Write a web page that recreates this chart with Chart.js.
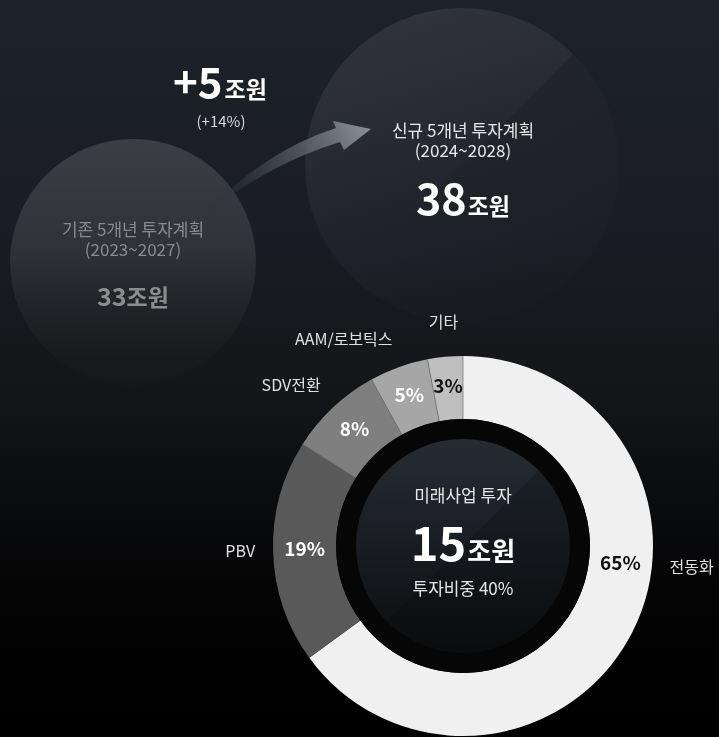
<!DOCTYPE html>
<html>
<head>
<meta charset="utf-8">
<script src="https://cdn.jsdelivr.net/npm/chart.js@4.4.1/dist/chart.umd.min.js"></script>
<style>
  html, body { margin: 0; padding: 0; background: #000; }
  #wrap { width: 719px; height: 737px; position: relative; }
  canvas { display: block; }
</style>
</head>
<body>
<div id="wrap"><canvas id="c" width="719" height="737"></canvas></div>
<script>
// ---- data ----
const categories = ['전동화', 'PBV', 'SDV전환', 'AAM/로보틱스', '기타'];
const shares = [65, 19, 8, 5, 3];
const planNames = ['기존 5개년 투자계획', '신규 5개년 투자계획'];
const planPeriods = ['(2023~2027)', '(2024~2028)'];
const planTotals = [33, 38];
const increaseAmount = 5;
const increasePct = 14;
const futureTitle = '미래사업 투자';
const futureTotal = 15;
const futureShareLabel = '투자비중';
const futureShare = 40;
const unit = '조원';

const FONT = '"Noto Sans CJK KR", "Noto Sans", sans-serif';
const segColors = ['#f0f0f0', '#595959', '#7f7f7f', '#a6a6a6', '#bfbfbf'];
const pctColors = ['#111111', '#ffffff', '#ffffff', '#ffffff', '#111111'];

function mixed(ctx, cx, baseY, parts) {
  let total = 0;
  const widths = parts.map(p => {
    ctx.font = `${p.weight} ${p.size}px ${FONT}`;
    const w = ctx.measureText(p.text).width + (p.gap || 0);
    total += w;
    return w;
  });
  let x = cx - total / 2;
  ctx.textAlign = 'left';
  ctx.textBaseline = 'alphabetic';
  parts.forEach((p, i) => {
    ctx.font = `${p.weight} ${p.size}px ${FONT}`;
    ctx.fillStyle = p.color;
    ctx.fillText(p.text, x, baseY);
    x += widths[i];
  });
}

function text(ctx, s, x, y, size, weight, color, align, baseline) {
  ctx.font = `${weight} ${size}px ${FONT}`;
  ctx.fillStyle = color;
  ctx.textAlign = align || 'center';
  ctx.textBaseline = baseline || 'middle';
  ctx.fillText(s, x, y);
}

const backdrop = {
  id: 'backdrop',
  beforeDraw(chart) {
    const ctx = chart.ctx;
    const W = chart.width, H = chart.height;
    ctx.save();
    const bg = ctx.createLinearGradient(0, 0, 0, H);
    bg.addColorStop(0, '#1d2129');
    bg.addColorStop(0.3, '#1a1d23');
    bg.addColorStop(0.52, '#141619');
    bg.addColorStop(0.8, '#040405');
    bg.addColorStop(1, '#000000');
    ctx.fillStyle = bg;
    ctx.fillRect(0, 0, W, H);

    // left bubble (existing plan)
    const L = { x: 133, y: 262, r: 123 };
    let g = ctx.createLinearGradient(0, L.y - L.r, 0, L.y + L.r);
    g.addColorStop(0, '#3b3e43');
    g.addColorStop(0.45, '#2f3236');
    g.addColorStop(1, 'rgba(24,26,29,0.3)');
    ctx.beginPath(); ctx.arc(L.x, L.y, L.r, 0, Math.PI * 2); ctx.fillStyle = g; ctx.fill();

    // right bubble (new plan)
    const R = { x: 462, y: 165, r: 157 };
    g = ctx.createLinearGradient(R.x - R.r * 0.4, R.y - R.r, R.x + R.r * 0.2, R.y + R.r);
    g.addColorStop(0, '#31353b');
    g.addColorStop(0.45, '#25292f');
    g.addColorStop(1, 'rgba(28,31,36,0.2)');
    ctx.beginPath(); ctx.arc(R.x, R.y, R.r, 0, Math.PI * 2); ctx.fillStyle = g; ctx.fill();
    ctx.save();
    ctx.beginPath(); ctx.arc(R.x, R.y, R.r, 0, Math.PI * 2); ctx.clip();
    ctx.beginPath();
    ctx.moveTo(R.x + R.r * 1.2, R.y - R.r * 1.2);
    ctx.lineTo(R.x - R.r * 1.2, R.y + R.r * 1.2);
    ctx.lineTo(R.x + R.r * 1.5, R.y + R.r * 1.5);
    ctx.closePath();
    const dg = ctx.createLinearGradient(R.x, R.y - R.r, R.x, R.y + R.r * 0.5);
    dg.addColorStop(0, 'rgba(14,16,20,0.35)');
    dg.addColorStop(1, 'rgba(14,16,20,0)');
    ctx.fillStyle = dg; ctx.fill();
    ctx.restore();

    // arrow
    const S = { x: 203, y: 216 };
    ctx.beginPath();
    ctx.moveTo(S.x, S.y);
    ctx.quadraticCurveTo(262, 152, 336, 128);
    ctx.lineTo(333, 121);
    ctx.lineTo(371, 129);
    ctx.lineTo(344, 150);
    ctx.lineTo(340, 142);
    ctx.quadraticCurveTo(268, 164, S.x, S.y);
    ctx.closePath();
    const ag = ctx.createLinearGradient(S.x, S.y, 371, 129);
    ag.addColorStop(0, 'rgba(40,46,56,0)');
    ag.addColorStop(0.4, 'rgba(64,70,80,0.7)');
    ag.addColorStop(1, 'rgba(140,144,150,1)');
    ctx.fillStyle = ag; ctx.fill();

    mixed(ctx, 220, 98, [
      { text: '+' + increaseAmount, size: 42, weight: 'bold', color: '#ffffff', gap: 2 },
      { text: unit, size: 23, weight: 'bold', color: '#ffffff' }
    ]);
    text(ctx, '(+' + increasePct + '%)', 221, 121, 15, 'normal', '#d8d8d8');

    text(ctx, planNames[0], L.x, 230, 17, 'normal', '#8a8b8d');
    text(ctx, planPeriods[0], L.x, 250, 17, 'normal', '#8a8b8d');
    mixed(ctx, L.x, 306, [
      { text: String(planTotals[0]), size: 25, weight: 'bold', color: '#8c8d8f' },
      { text: unit, size: 23, weight: 'bold', color: '#8c8d8f' }
    ]);

    text(ctx, planNames[1], R.x + 1, 131, 17, 'normal', '#e6e6e6');
    text(ctx, planPeriods[1], R.x + 1, 151, 17, 'normal', '#e6e6e6');
    mixed(ctx, 463, 215, [
      { text: String(planTotals[1]), size: 43, weight: 'bold', color: '#ffffff', gap: 1 },
      { text: unit, size: 23, weight: 'bold', color: '#ffffff' }
    ]);
    ctx.restore();
  },
  afterDatasetsDraw(chart) {
    const ctx = chart.ctx;
    const meta = chart.getDatasetMeta(0);
    const a0 = meta.data[0];
    const cx = a0.x, cy = a0.y;
    const inner = a0.innerRadius, outer = a0.outerRadius;
    ctx.save();
    // thin separators between segments
    ctx.strokeStyle = 'rgba(110,110,110,0.7)';
    ctx.lineWidth = 1;
    meta.data.forEach((arc, i) => {
      if (i < 2) return;
      const t = arc.startAngle;
      ctx.beginPath();
      ctx.moveTo(cx + Math.cos(t) * inner, cy + Math.sin(t) * inner);
      ctx.lineTo(cx + Math.cos(t) * outer, cy + Math.sin(t) * outer);
      ctx.stroke();
    });
    {
      const t = meta.data[0].startAngle;
      ctx.beginPath();
      ctx.moveTo(cx + Math.cos(t) * inner, cy + Math.sin(t) * inner);
      ctx.lineTo(cx + Math.cos(t) * outer, cy + Math.sin(t) * outer);
      ctx.stroke();
    }

    ctx.beginPath(); ctx.arc(cx, cy, inner, 0, Math.PI * 2); ctx.fillStyle = '#060606'; ctx.fill();
    const dr = inner * 0.843;
    const dg = ctx.createLinearGradient(cx, cy - dr, cx, cy + dr);
    dg.addColorStop(0, '#272c33');
    dg.addColorStop(0.5, '#191d22');
    dg.addColorStop(1, '#0b0c0e');
    ctx.beginPath(); ctx.arc(cx, cy, dr, 0, Math.PI * 2); ctx.fillStyle = dg; ctx.fill();
    ctx.save();
    ctx.beginPath(); ctx.arc(cx, cy, dr, 0, Math.PI * 2); ctx.clip();
    ctx.beginPath();
    ctx.moveTo(cx + dr * 1.2, cy - dr * 1.2);
    ctx.lineTo(cx - dr * 1.2, cy + dr * 1.2);
    ctx.lineTo(cx + dr * 1.5, cy + dr * 1.5);
    ctx.closePath();
    ctx.fillStyle = 'rgba(8,10,13,0.25)'; ctx.fill();
    ctx.restore();

    text(ctx, futureTitle, cx, cy - 50, 17, 'normal', '#e6e6e6');
    mixed(ctx, cx, cy + 15, [
      { text: String(futureTotal), size: 47, weight: 'bold', color: '#ffffff', gap: 1 },
      { text: unit, size: 26, weight: 'bold', color: '#ffffff' }
    ]);
    text(ctx, futureShareLabel + ' ' + futureShare + '%', cx, cy + 43, 17, 'normal', '#e6e6e6');

    meta.data.forEach((arc, i) => {
      const s = arc.startAngle, e = arc.endAngle;
      let ang = (s + e) / 2;
      if (s < 0 && e > 0) ang = 0.12;
      const mid = (inner + outer) / 2;
      const px = cx + Math.cos(ang) * mid, py = cy + Math.sin(ang) * mid;
      text(ctx, shares[i] + '%', px, py - 2, 19, 'bold', pctColors[i]);
      const dx = Math.cos(ang), dy = Math.sin(ang);
      const lr = outer + 18;
      const lx = cx + dx * lr, ly = cy + dy * lr;
      if (Math.abs(dx) < 0.2) {
        text(ctx, categories[i], lx, ly + dy * 17, 16, 'normal', '#e0e0e0', 'center');
      } else if (dx < 0) {
        text(ctx, categories[i], lx, ly + dy * 10 - 2, 16, 'normal', '#e0e0e0', 'right');
      } else {
        text(ctx, categories[i], lx, ly - 4, 16, 'normal', '#e0e0e0', 'left');
      }
    });
    ctx.restore();
  }
};

new Chart(document.getElementById('c'), {
  type: 'doughnut',
  data: {
    labels: categories,
    datasets: [{
      data: shares,
      backgroundColor: segColors,
      borderWidth: 0,
      hoverOffset: 0
    }]
  },
  options: {
    responsive: false,
    animation: false,
    cutout: '66.8%',
    layout: { padding: { left: 273, right: 66, top: 356, bottom: 1 } },
    plugins: {
      legend: { display: false },
      tooltip: { enabled: false }
    },
    events: []
  },
  plugins: [backdrop]
});
</script>
</body>
</html>
